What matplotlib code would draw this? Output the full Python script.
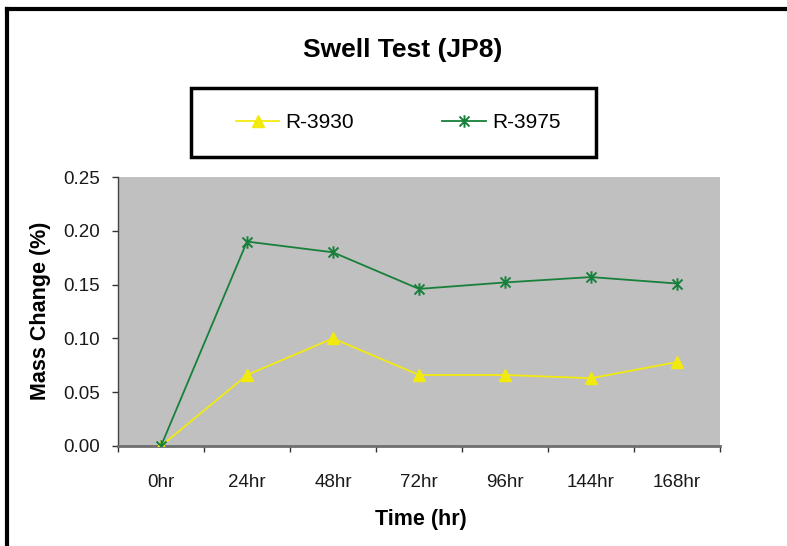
import matplotlib
matplotlib.use("Agg")
import matplotlib.pyplot as plt
from matplotlib.path import Path
from matplotlib.lines import Line2D
from matplotlib.patches import Rectangle

categories = ["0hr", "24hr", "48hr", "72hr", "96hr", "144hr", "168hr"]
r3930 = [0.000, 0.066, 0.100, 0.066, 0.066, 0.063, 0.078]
r3975 = [0.000, 0.190, 0.180, 0.146, 0.152, 0.157, 0.151]
yticks = [0.00, 0.05, 0.10, 0.15, 0.20, 0.25]
title = "Swell Test (JP8)"
xlabel = "Time (hr)"
ylabel = "Mass Change (%)"

regf = ["Liberation Sans", "Arial", "DejaVu Sans"]
boldf = ["Liberation Sans", "Arial", "DejaVu Sans"]

fig = plt.figure(figsize=(7.87, 5.46), dpi=100)
W, H = 787, 546
ax = fig.add_axes([118 / W, (H - 446) / H, 602 / W, 269 / H])
ax.set_facecolor("#C0C0C0")

star = Path([(0, -1), (0, 1), (-0.8, -0.8), (0.8, 0.8), (-0.8, 0.8), (0.8, -0.8)],
            [Path.MOVETO, Path.LINETO, Path.MOVETO, Path.LINETO, Path.MOVETO, Path.LINETO])

x = list(range(len(categories)))
ax.plot(x, r3930, color="#F2EA0F", lw=1.3, marker="^", ms=8.5, mec="#F2EA0F",
        mfc="#F2EA0F", label="R-3930", zorder=3)
ax.plot(x, r3975, color="#17803A", lw=1.3, marker=star, ms=9, mew=1.4,
        mec="#17803A", label="R-3975", zorder=4)

ax.set_xlim(-0.5, len(categories) - 0.5)
ax.set_ylim(0, 0.25)
ax.set_yticks(yticks)
ax.set_yticklabels([f"{v:.2f}" for v in yticks], fontfamily=regf, fontsize=13.5, color="#1A1A1A")
ax.set_xticks(x)
ax.set_xticklabels(categories, fontfamily=regf, fontsize=13.5, color="#1A1A1A")
ax.set_xticks([i - 0.5 for i in range(len(categories) + 1)], minor=True)
ax.tick_params(axis="x", which="major", length=0, pad=20.5)
ax.tick_params(axis="x", which="minor", length=4.3, width=1, color="#333333", direction="out")
ax.tick_params(axis="y", length=4.3, width=1, color="#333333", direction="out", pad=8.6)
for s in ["top", "right"]:
    ax.spines[s].set_visible(False)
ax.spines["left"].set_color("#444444")
ax.spines["left"].set_linewidth(1.0)
ax.spines["bottom"].set_color("#6E6E6E")
ax.spines["bottom"].set_linewidth(2.0)

ax.set_xlabel(xlabel, fontfamily=boldf, fontweight="bold", fontsize=15.5, va="center")
ax.xaxis.set_label_coords((421 - 118) / 602, (446 - 519) / 269)
ax.set_ylabel(ylabel, fontfamily=boldf, fontweight="bold", fontsize=15.5, va="center")
ax.yaxis.set_label_coords((40 - 118) / 602, (446 - 311) / 269)
fig.text(403 / W, 1 - 57 / H, title, ha="center", va="baseline",
         fontfamily=boldf, fontweight="bold", fontsize=19)

# legend box
fig.add_artist(Rectangle((191 / W, 1 - 157 / H), 405 / W, 69 / H, transform=fig.transFigure,
                         fill=False, ec="black", lw=2.5))
fig.legend(loc="center", bbox_to_anchor=(398 / W, 1 - 123 / H), ncol=2, frameon=False,
           prop={"family": regf, "size": 15}, handlelength=2.1, handletextpad=0.3,
           columnspacing=4.2, borderpad=0, borderaxespad=0)

# outer frame (left and top)
fig.add_artist(Line2D([7 / W, 7 / W], [0, 1 - 9 / H], transform=fig.transFigure, color="black", lw=3))
fig.add_artist(Line2D([7 / W, 1], [1 - 9 / H, 1 - 9 / H], transform=fig.transFigure, color="black", lw=3))

fig.savefig("out.png", dpi=100)
